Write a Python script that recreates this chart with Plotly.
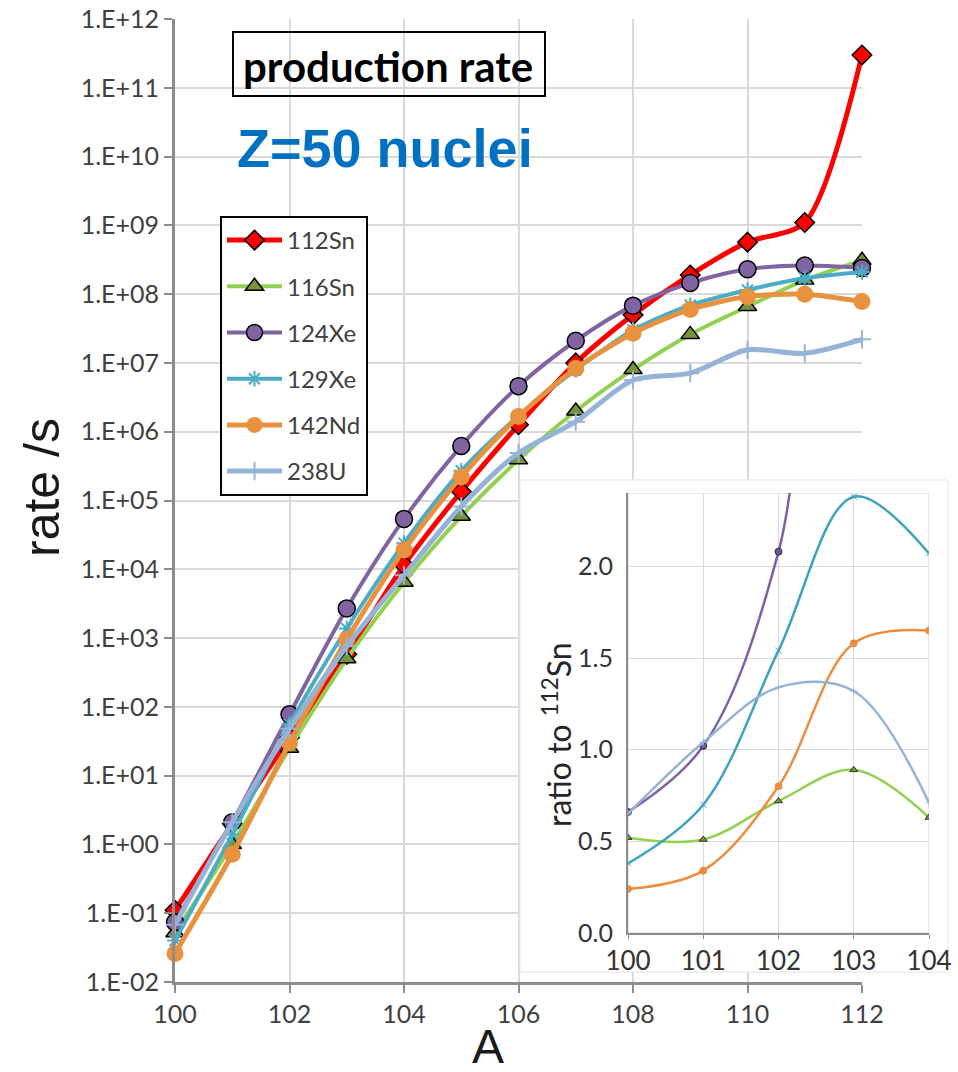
import plotly.graph_objects as go

# ---- production rates of Z=50 nuclei vs mass number A ----
mass_A = [100, 101, 102, 103, 104, 105, 106, 107, 108, 109, 110, 111, 112]

rate_112Sn = [0.11, 2.0, 36, 580, 1.15e4, 1.35e5, 1.26e6, 1.0e7, 5.0e7, 1.9e8, 5.7e8, 1.1e9, 3.0e11]
rate_116Sn = [0.052, 1.0, 25, 500, 6.5e3, 5.9e4, 3.9e5, 2.0e6, 8.0e6, 2.6e7, 6.6e7, 1.6e8, 3.1e8]
rate_124Xe = [0.074, 2.1, 78, 2.7e3, 5.4e4, 6.2e5, 4.6e6, 2.1e7, 6.8e7, 1.45e8, 2.3e8, 2.6e8, 2.4e8]
rate_129Xe = [0.040, 1.4, 56, 1.38e3, 2.4e4, 2.7e5, 1.7e6, 7.9e6, 3.0e7, 6.9e7, 1.15e8, 1.7e8, 2.1e8]
rate_142Nd = [0.026, 0.72, 30, 950, 1.9e4, 2.2e5, 1.66e6, 8.3e6, 2.7e7, 6.0e7, 9.2e7, 1.0e8, 7.8e7]
rate_238U = [0.068, 2.1, 48, 760, 8.2e3, 8.2e4, 4.9e5, 1.4e6, 5.6e6, 7.1e6, 1.55e7, 1.38e7, 2.2e7]

series_names = ["112Sn", "116Sn", "124Xe", "129Xe", "142Nd", "238U"]

# ---- ratio to 112Sn for the lightest isotopes ----
ratio_A = [100, 101, 102, 103, 104]
ratio_116Sn = [0.52, 0.51, 0.72, 0.89, 0.63]
ratio_124Xe = [0.66, 1.02, 2.08, 4.7, 4.6]
ratio_129Xe = [0.38, 0.70, 1.54, 2.38, 2.07]
ratio_142Nd = [0.24, 0.34, 0.80, 1.58, 1.65]
ratio_238U = [0.65, 1.04, 1.34, 1.32, 0.71]

y_exponents = list(range(-2, 13))
y_tick_text = ["1.E-%02d" % (-e) if e < 0 else "1.E+%02d" % e for e in y_exponents]
x_ticks = [100, 102, 104, 106, 108, 110, 112]
ratio_ticks = [0.0, 0.5, 1.0, 1.5, 2.0]

# ---- page geometry (pixels) ----
W, H = 958, 1072
ML, MR, MT, MB = 175, 20, 19, 90
PW, PH = W - ML - MR, H - MT - MB
MAIN_RIGHT = 862
X_MIN, X_MAX = 100, 112
LOG_MIN, LOG_MAX = -2, 12


def px(x):
    return (x - ML) / PW


def py(y):
    return (H - MB - y) / PH


def a_at(x):
    # mass number at a horizontal pixel of the main plot
    return X_MIN + (x - ML) / (MAIN_RIGHT - ML) * (X_MAX - X_MIN)


def rate_at(y):
    # rate value at a vertical pixel of the main plot
    return 10.0 ** (LOG_MIN + (H - MB - y) / PH * (LOG_MAX - LOG_MIN))


styles = {
    "112Sn": dict(color="#FF0000", width=5, symbol="diamond", size=15,
                  mcolor="#FF0000", mline="#000000", mlw=1.5),
    "116Sn": dict(color="#92D050", width=4, symbol="triangle-up", size=16,
                  mcolor="#77933C", mline="#000000", mlw=1.5),
    "124Xe": dict(color="#8064A2", width=4, symbol="circle", size=17,
                  mcolor="#8064A2", mline="#000000", mlw=1.5),
    "129Xe": dict(color="#4BACC6", width=4, symbol="asterisk-open", size=13,
                  mcolor="#4BACC6", mline="#4BACC6", mlw=2),
    "142Nd": dict(color="#E8913F", width=5, symbol="circle", size=17,
                  mcolor="#E8913F", mline="#E8913F", mlw=0),
    "238U": dict(color="#95B3D7", width=5, symbol="cross-thin-open", size=13,
                 mcolor="#95B3D7", mline="#95B3D7", mlw=2),
}

main_data = [rate_112Sn, rate_116Sn, rate_124Xe, rate_129Xe, rate_142Nd, rate_238U]

fig = go.Figure()

for name, vals in zip(series_names, main_data):
    s = styles[name]
    fig.add_trace(go.Scatter(
        x=mass_A, y=vals, name=name, mode="lines+markers",
        line=dict(color=s["color"], width=s["width"], shape="spline", smoothing=0.8),
        marker=dict(symbol=s["symbol"], size=s["size"], color=s["mcolor"],
                    line=dict(color=s["mline"], width=s["mlw"])),
        cliponaxis=False, legendgroup=name,
        xaxis="x", yaxis="y",
    ))

# inset: ratio curves
inset_data = [
    ("116Sn", ratio_116Sn, "triangle-up", 7, "#92D050", "#77933C", "#333333"),
    ("124Xe", ratio_124Xe, "circle", 7, "#7E62A6", "#6F559A", "#333333"),
    ("129Xe", ratio_129Xe, "x-thin-open", 6, "#3FA3BD", "#3FA3BD", "#3FA3BD"),
    ("142Nd", ratio_142Nd, "circle", 7, "#EE8B3C", "#EE8B3C", "#EE8B3C"),
    ("238U", ratio_238U, "cross-thin-open", 5, "#95B3D7", "#95B3D7", "#95B3D7"),
]
for name, vals, sym, sz, lc, mc, ml in inset_data:
    fig.add_trace(go.Scatter(
        x=ratio_A, y=vals, name=name + " ratio", mode="lines+markers", showlegend=False,
        line=dict(color=lc, width=2.5, shape="spline", smoothing=1.0),
        marker=dict(symbol=sym, size=sz, color=mc, line=dict(color=ml, width=1)),
        cliponaxis=True, xaxis="x2", yaxis="y2",
    ))

tick_font = dict(family="Lato, 'Open Sans', sans-serif", size=25, color="#404040")
grid = "#D9D9D9"
axis_col = "#8C8C8C"

fig.update_layout(
    width=W, height=H,
    margin=dict(l=ML, r=MR, t=MT, b=MB, autoexpand=False),
    paper_bgcolor="white", plot_bgcolor="white",
    font=dict(family="Lato, sans-serif"),
    xaxis=dict(
        domain=[0, px(MAIN_RIGHT)], range=[X_MIN, X_MAX], tickvals=x_ticks,
        showgrid=True, gridcolor=grid, gridwidth=2,
        showline=True, linecolor=axis_col, linewidth=3,
        ticks="outside", ticklen=8, tickcolor=axis_col, tickwidth=2,
        tickfont=dict(tick_font, size=25), zeroline=False,
    ),
    yaxis=dict(
        type="log", range=[LOG_MIN, LOG_MAX], domain=[0, 1],
        tickvals=[10.0 ** e for e in y_exponents], ticktext=y_tick_text,
        showgrid=True, gridcolor=grid, gridwidth=2,
        showline=True, linecolor=axis_col, linewidth=3,
        ticks="outside", ticklen=8, tickcolor=axis_col, tickwidth=2,
        tickfont=tick_font, zeroline=False,
    ),
    xaxis2=dict(
        domain=[px(628), px(929)], range=[100, 104], anchor="y2",
        tickvals=ratio_A, showgrid=True, gridcolor=grid, gridwidth=1,
        showline=True, linecolor=axis_col, linewidth=2,
        ticks="outside", ticklen=4, tickcolor=axis_col,
        tickfont=dict(tick_font, size=26, color="#333333"), zeroline=False,
    ),
    yaxis2=dict(
        domain=[py(933), py(493)], range=[0, 2.4], anchor="x2",
        tickvals=ratio_ticks, ticktext=["%.1f" % v for v in ratio_ticks],
        showgrid=True, gridcolor=grid, gridwidth=1,
        showline=True, linecolor=axis_col, linewidth=2,
        ticks="", ticklabelstandoff=8,
        tickfont=dict(tick_font, size=25, color="#333333"), zeroline=False,
    ),
    legend=dict(
        x=px(220), y=py(216), xanchor="left", yanchor="top",
        bgcolor="white", bordercolor="black", borderwidth=2,
        font=dict(family="Lato, sans-serif", size=24, color="#404040"),
        itemwidth=55, tracegroupgap=12,
    ),
    showlegend=True,
)

shapes = [
    # white panel behind the inset, hiding the main grid
    dict(type="rect", xref="x", yref="y", layer="between",
         x0=a_at(520), x1=a_at(952), y0=rate_at(972), y1=rate_at(480),
         fillcolor="white", line=dict(color="#E6E6E6", width=1)),
    # part of the inset panel border outside the main plot
    dict(type="rect", xref="paper", yref="paper", layer="below",
         x0=px(520), x1=px(948), y0=py(972), y1=py(480),
         fillcolor="rgba(0,0,0,0)", line=dict(color="#E6E6E6", width=1)),
    # inset frame (top/right)
    dict(type="rect", xref="x2", yref="y2", layer="below",
         x0=100, x1=104, y0=0, y1=2.4, line=dict(color="#D0D0D0", width=1)),
    # box around the title
    dict(type="rect", xref="paper", yref="paper", layer="above",
         x0=px(233), x1=px(545), y0=py(96), y1=py(32),
         fillcolor="rgba(0,0,0,0)", line=dict(color="black", width=2)),
]
fig.update_layout(shapes=shapes)

annotations = [
    dict(text="<b>production rate</b>", x=px(388), y=py(66), xref="paper", yref="paper",
         showarrow=False, xanchor="center", yanchor="middle",
         font=dict(family="Lato, sans-serif", size=42, color="black")),
    dict(text="<b>Z=50 nuclei</b>", x=px(385), y=py(148), xref="paper", yref="paper",
         showarrow=False, xanchor="center", yanchor="middle",
         font=dict(family="Liberation Sans, Arial, sans-serif", size=54, color="#0070C0")),
    dict(text="rate /s", x=px(42), y=py(488), xref="paper", yref="paper",
         showarrow=False, xanchor="center", yanchor="middle", textangle=-90,
         font=dict(family="Liberation Sans, Arial, sans-serif", size=50, color="#1A1A1A")),
    dict(text="A", x=px(488), y=py(1046), xref="paper", yref="paper",
         showarrow=False, xanchor="center", yanchor="middle",
         font=dict(family="Liberation Sans, Arial, sans-serif", size=48, color="#1A1A1A")),
    dict(text="ratio to <sup>112</sup>Sn", x=px(557), y=py(735), xref="paper", yref="paper",
         showarrow=False, xanchor="center", yanchor="middle", textangle=-90,
         font=dict(family="Lato, sans-serif", size=32, color="#262626")),
]
fig.update_layout(annotations=annotations)

fig.write_html("out.html")
